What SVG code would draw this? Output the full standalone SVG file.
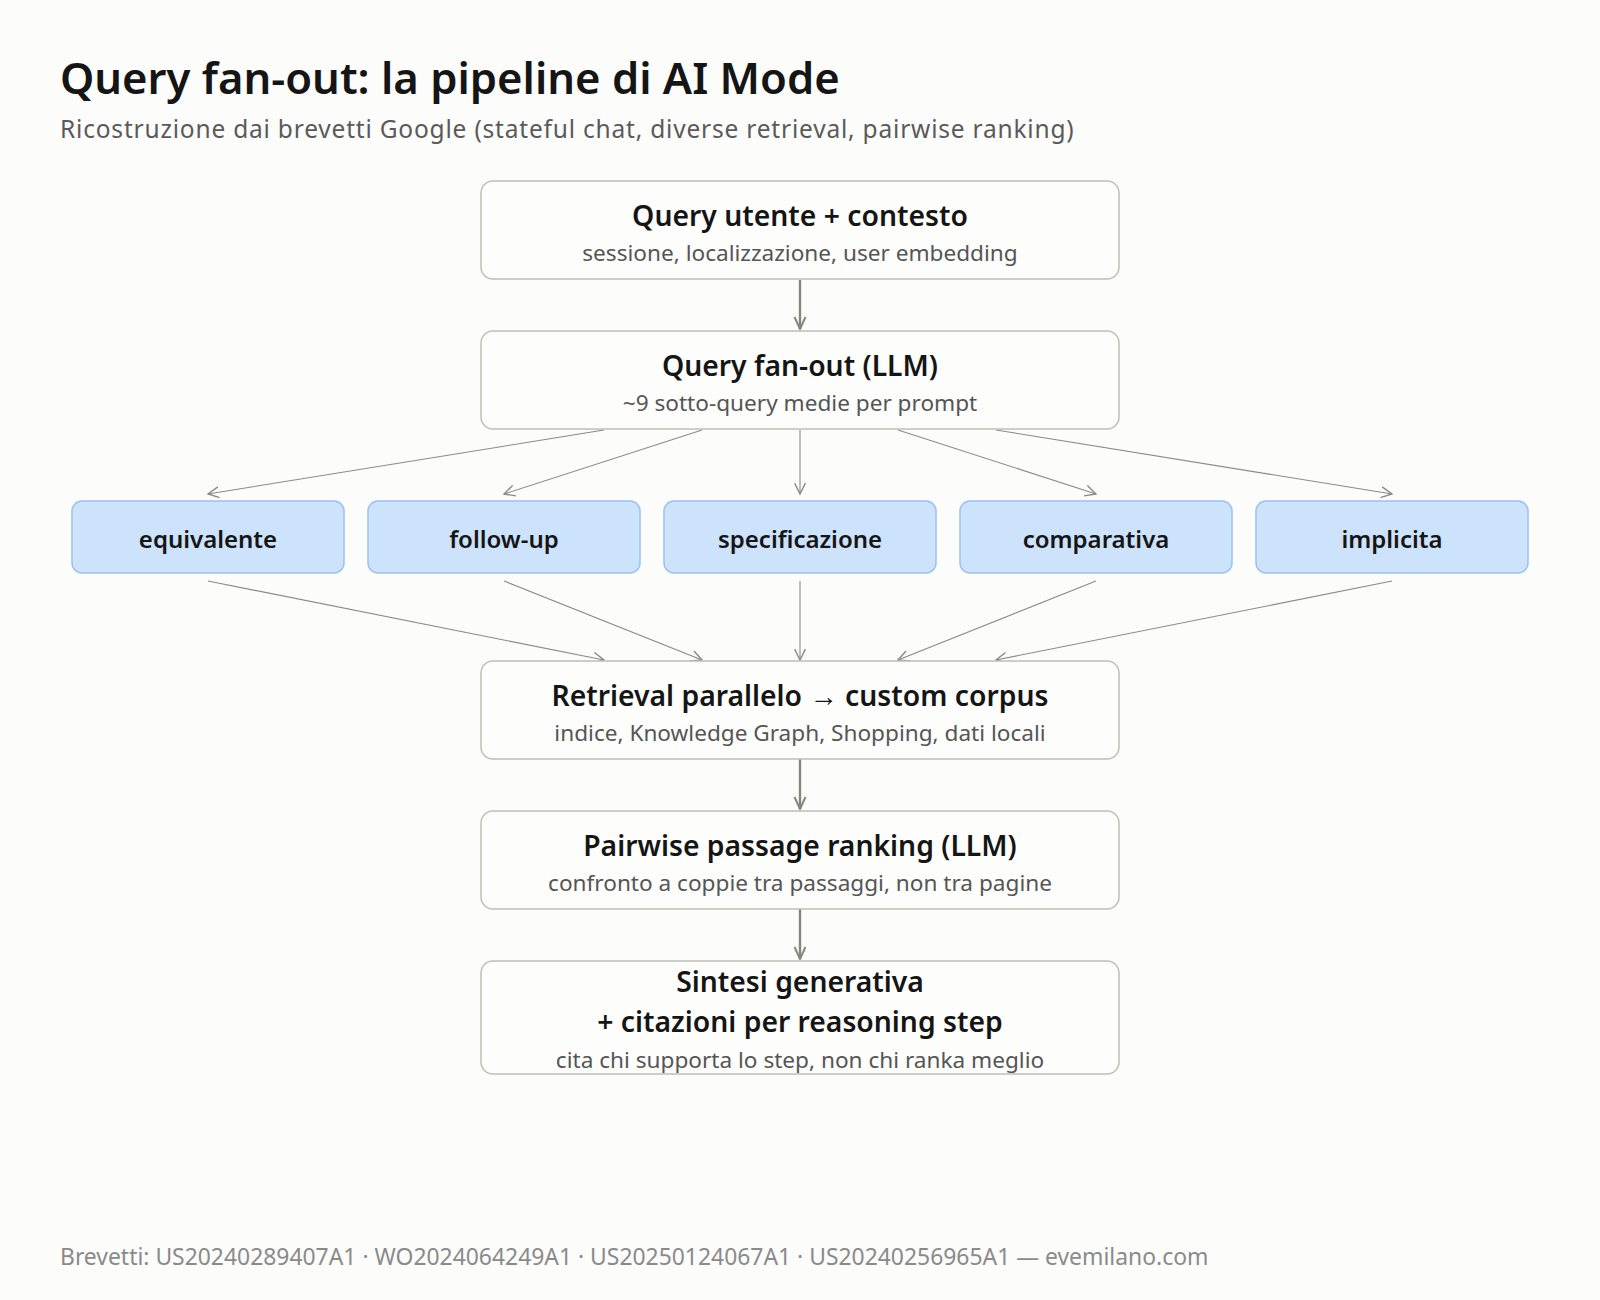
<svg xmlns="http://www.w3.org/2000/svg" width="1600" height="1300" viewBox="0 0 1600 1300">
<defs>
<style>
.bg{fill:#fcfcfb}
.box{fill:#fdfdfc;stroke:#bfbfb6;stroke-width:1.5}
.sub{fill:#cde2fb;stroke:#98c2f2;stroke-width:1.5}
.t{font-family:"Noto Sans","Open Sans",sans-serif;font-weight:600;fill:#151515;text-anchor:middle}
.d{font-family:"Noto Sans","Open Sans",sans-serif;fill:#555;text-anchor:middle}
.main{stroke:#86867f;stroke-width:2.4;fill:none}
.fan{stroke:#8a8a85;stroke-width:1.1;fill:none}
</style>
<marker id="ah" viewBox="0 0 14 14" refX="13" refY="7" markerWidth="14" markerHeight="14" markerUnits="userSpaceOnUse" orient="auto">
<path d="M1,1.5 L13,7 L1,12.5" fill="none" stroke="#86867f" stroke-width="2"/>
</marker>
<marker id="ahs" viewBox="0 0 12 12" refX="11" refY="6" markerWidth="13" markerHeight="13" markerUnits="userSpaceOnUse" orient="auto">
<path d="M1,1 L11,6 L1,11" fill="none" stroke="#8a8a85" stroke-width="1.3"/>
</marker>
</defs>
<rect class="bg" x="0" y="0" width="1600" height="1300"/>
<text x="60" y="94" font-family="Noto Sans, Open Sans, sans-serif" font-weight="600" font-size="43.6" fill="#151515">Query fan-out: la pipeline di AI Mode</text>
<text x="60" y="138" font-family="Noto Sans, Open Sans, sans-serif" font-size="24.5" letter-spacing="0.8" fill="#5a5a5a">Ricostruzione dai brevetti Google (stateful chat, diverse retrieval, pairwise ranking)</text>

<g id="connectors">
<line class="main" x1="800" y1="280" x2="800" y2="329" marker-end="url(#ah)"/>
<line class="fan" x1="604" y1="430" x2="208" y2="494" marker-end="url(#ahs)"/>
<line class="fan" x1="702" y1="430" x2="504" y2="494" marker-end="url(#ahs)"/>
<line class="fan" x1="800" y1="430" x2="800" y2="494" marker-end="url(#ahs)"/>
<line class="fan" x1="898" y1="430" x2="1096" y2="494" marker-end="url(#ahs)"/>
<line class="fan" x1="996" y1="430" x2="1392" y2="494" marker-end="url(#ahs)"/>
<line class="fan" x1="208" y1="581" x2="604" y2="660" marker-end="url(#ahs)"/>
<line class="fan" x1="504" y1="581" x2="702" y2="660" marker-end="url(#ahs)"/>
<line class="fan" x1="800" y1="581" x2="800" y2="660" marker-end="url(#ahs)"/>
<line class="fan" x1="1096" y1="581" x2="898" y2="660" marker-end="url(#ahs)"/>
<line class="fan" x1="1392" y1="581" x2="996" y2="660" marker-end="url(#ahs)"/>
<line class="main" x1="800" y1="759" x2="800" y2="809" marker-end="url(#ah)"/>
<line class="main" x1="800" y1="909" x2="800" y2="959" marker-end="url(#ah)"/>
</g>

<g id="n-query">
<rect class="box" x="481" y="181" width="638" height="98" rx="12"/>
<text class="t" x="800" y="226" font-size="28.3">Query utente + contesto</text>
<text class="d" x="800" y="261" font-size="22.6">sessione, localizzazione, user embedding</text>
</g>
<g id="n-fanout">
<rect class="box" x="481" y="331" width="638" height="98" rx="12"/>
<text class="t" x="800" y="376" font-size="28.3">Query fan-out (LLM)</text>
<text class="d" x="800" y="411" font-size="22.6">~9 sotto-query medie per prompt</text>
</g>
<g id="n-equivalente">
<rect class="sub" x="72" y="501" width="272" height="72" rx="10"/>
<text class="t" x="208" y="548" font-size="24">equivalente</text>
</g>
<g id="n-followup">
<rect class="sub" x="368" y="501" width="272" height="72" rx="10"/>
<text class="t" x="504" y="548" font-size="24">follow-up</text>
</g>
<g id="n-specificazione">
<rect class="sub" x="664" y="501" width="272" height="72" rx="10"/>
<text class="t" x="800" y="548" font-size="24">specificazione</text>
</g>
<g id="n-comparativa">
<rect class="sub" x="960" y="501" width="272" height="72" rx="10"/>
<text class="t" x="1096" y="548" font-size="24">comparativa</text>
</g>
<g id="n-implicita">
<rect class="sub" x="1256" y="501" width="272" height="72" rx="10"/>
<text class="t" x="1392" y="548" font-size="24">implicita</text>
</g>
<g id="n-retrieval">
<rect class="box" x="481" y="661" width="638" height="98" rx="12"/>
<text class="t" x="800" y="706" font-size="28.3">Retrieval parallelo → custom corpus</text>
<text class="d" x="800" y="741" font-size="22.6">indice, Knowledge Graph, Shopping, dati locali</text>
</g>
<g id="n-ranking">
<rect class="box" x="481" y="811" width="638" height="98" rx="12"/>
<text class="t" x="800" y="856" font-size="28.3">Pairwise passage ranking (LLM)</text>
<text class="d" x="800" y="891" font-size="22.6">confronto a coppie tra passaggi, non tra pagine</text>
</g>
<g id="n-sintesi">
<rect class="box" x="481" y="961" width="638" height="113" rx="12"/>
<text class="t" x="800" y="992" font-size="28.3">Sintesi generativa</text>
<text class="t" x="800" y="1032" font-size="28.3">+ citazioni per reasoning step</text>
<text class="d" x="800" y="1068" font-size="22.6">cita chi supporta lo step, non chi ranka meglio</text>
</g>
<text x="60" y="1265" font-family="Noto Sans, Open Sans, sans-serif" font-size="22.9" fill="#8a8a8a">Brevetti: US20240289407A1 · WO2024064249A1 · US20250124067A1 · US20240256965A1 — evemilano.com</text>
</svg>
